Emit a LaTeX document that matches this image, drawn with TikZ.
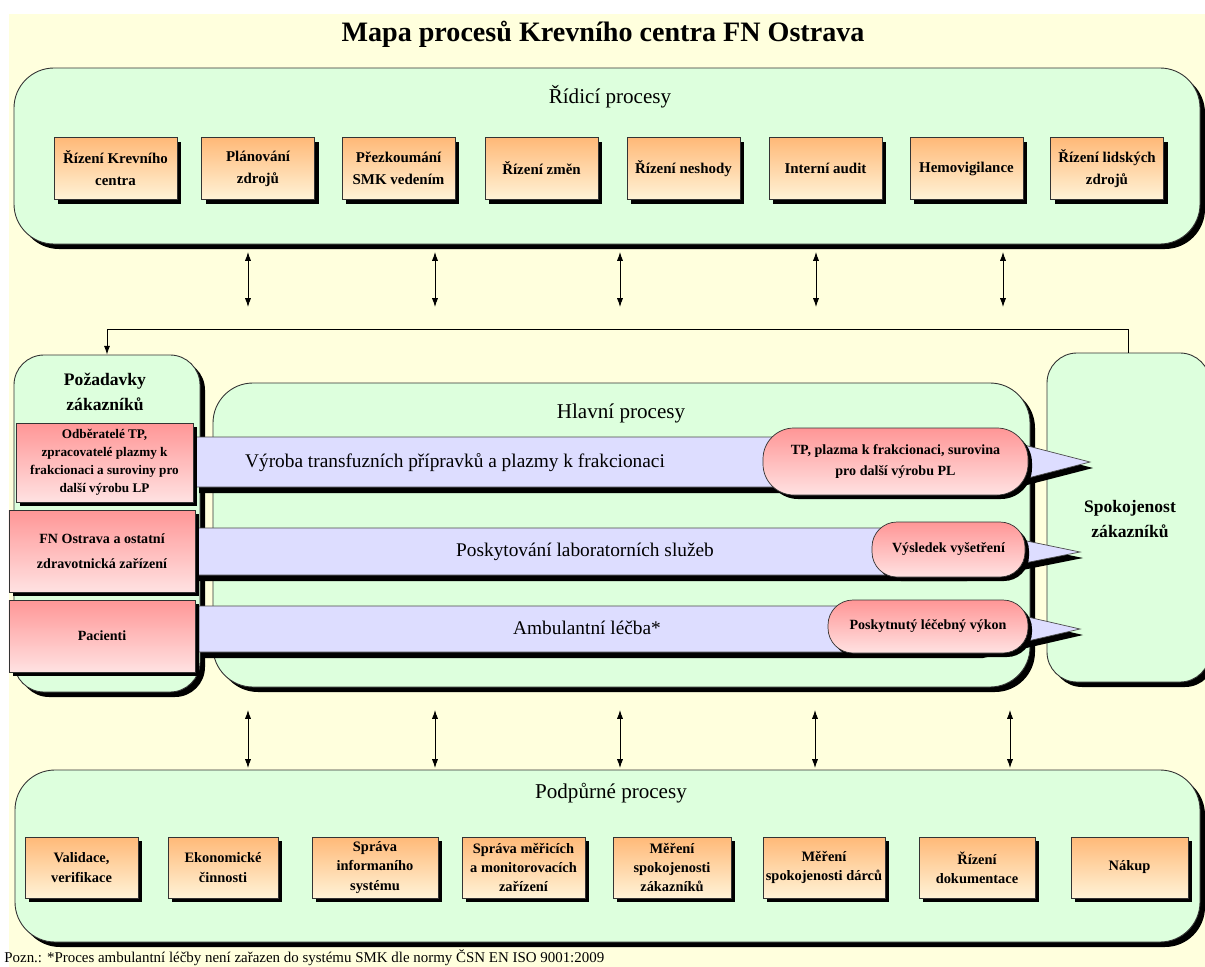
\documentclass[tikz,border=0pt]{standalone}
\usepackage{fontspec}
\setmainfont{Liberation Serif}
\usepackage{tikz}
\usetikzlibrary{positioning, shadows, arrows.meta}

\begin{document}
\begin{tikzpicture}[
  panel/.style={
    draw=black!80,
    fill=panelgreen,
    rounded corners=0.8cm,
    line width=0.5pt,
    drop shadow={shadow xshift=0.1cm, shadow yshift=-0.1cm, fill=black, opacity=1}
  },
  sidepanel/.style={
    panel,
    rounded corners=0.6cm
  },
  procbox/.style={
    draw=black!80,
    top color=boxtop,
    bottom color=boxbot,
    minimum width=2.26cm,
    minimum height=1.24cm,
    font=\bfseries\fontsize{8.5}{12.5}\selectfont,
    align=center,
    inner sep=1pt,
    drop shadow={shadow xshift=0.08cm, shadow yshift=-0.08cm, fill=black, opacity=1}
  },
  suppbox/.style={
    procbox,
    minimum height=1.22cm,
    font=\bfseries\fontsize{8.2}{11}\selectfont
  },
  custbox/.style={
    draw=black!80,
    top color=redtop,
    bottom color=redbot,
    font=\bfseries\fontsize{7.5}{10.2}\selectfont,
    align=center,
    inner sep=1pt,
    drop shadow={shadow xshift=0.08cm, shadow yshift=-0.08cm, fill=black, opacity=1}
  },
  outcome/.style={
    custbox,
    rounded corners=0.5cm,
    font=\bfseries\fontsize{8}{12}\selectfont
  },
  mainbar/.style={
    draw=black!70,
    fill=barblue,
    line width=0.4pt,
    drop shadow={shadow xshift=0.06cm, shadow yshift=-0.12cm, fill=black, opacity=1}
  },
  paneltitle/.style={
    font=\fontsize{12}{14}\selectfont
  },
  bartext/.style={
    font=\fontsize{11}{13}\selectfont
  },
  sidetitle/.style={
    font=\bfseries\fontsize{10}{14}\selectfont,
    align=center
  },
  biarrow/.style={
    {Latex[length=5pt,width=3.5pt]}-{Latex[length=5pt,width=3.5pt]},
    line width=0.5pt
  }
]

\definecolor{bgyellow}{RGB}{255,255,221}
\definecolor{panelgreen}{RGB}{221,255,221}
\definecolor{boxtop}{RGB}{255,185,120}
\definecolor{boxbot}{RGB}{255,243,215}
\definecolor{redtop}{RGB}{255,150,150}
\definecolor{redbot}{RGB}{255,226,226}
\definecolor{barblue}{RGB}{221,221,255}

\useasboundingbox (0,0) rectangle (24.1,-19.34);
\fill[white] (0,0) rectangle (24.1,-19.34);
\fill[bgyellow] (0.18,-0.28) rectangle (24.1,-19.34);

\node[font=\bfseries\fontsize{16}{19}\selectfont] (title) at (12.06,-0.68)
  {Mapa procesů Krevního centra FN Ostrava};

% ridici procesy
\node[panel, minimum width=23.72cm, minimum height=3.52cm] (ctrl) at (12.14,-3.12) {};
\node[paneltitle] (ctrltitle) at (12.2,-1.94) {Řídicí procesy};

\node[procbox, minimum width=2.46cm] (c1) at (2.31,-3.37) {Řízení Krevního\\centra};
\node[procbox] (c2) at (5.16,-3.37) {Plánování\\zdrojů};
\node[procbox] (c3) at (7.97,-3.37) {Přezkoumání\\SMK vedením};
\node[procbox] (c4) at (10.83,-3.37) {Řízení změn};
\node[procbox] (c5) at (13.67,-3.37) {Řízení neshody};
\node[procbox] (c6) at (16.51,-3.37) {Interní audit};
\node[procbox] (c7) at (19.33,-3.37) {Hemovigilance};
\node[procbox] (c8) at (22.14,-3.37) {Řízení lidských\\zdrojů};

\coordinate (ua1) at (4.96,-5.04);  \coordinate (ub1) at (4.96,-6.14);
\coordinate (ua2) at (8.70,-5.04);  \coordinate (ub2) at (8.70,-6.14);
\coordinate (ua3) at (12.40,-5.04); \coordinate (ub3) at (12.40,-6.14);
\coordinate (ua4) at (16.32,-5.04); \coordinate (ub4) at (16.32,-6.14);
\coordinate (ua5) at (20.06,-5.04); \coordinate (ub5) at (20.06,-6.14);
\draw[biarrow] (ua1) -- (ub1);
\draw[biarrow] (ua2) -- (ub2);
\draw[biarrow] (ua3) -- (ub3);
\draw[biarrow] (ua4) -- (ub4);
\draw[biarrow] (ua5) -- (ub5);

% pozadavky, hlavni procesy, spokojenost
\node[sidepanel, minimum width=3.72cm, minimum height=6.74cm] (req) at (2.14,-10.47) {};
\node[sidetitle] (reqtitle) at (2.10,-7.84) {Požadavky\\zákazníků};

\node[panel, minimum width=16.34cm, minimum height=6.08cm] (main) at (12.43,-10.70) {};
\node[paneltitle] (maintitle) at (12.42,-8.26) {Hlavní procesy};

\node[sidepanel, minimum width=3.26cm, minimum height=6.58cm] (sat) at (22.57,-10.35) {};
\node[sidetitle] (sattitle) at (22.60,-10.38) {Spokojenost\\zákazníků};

\draw[-{Latex[length=5pt,width=3.5pt]}, line width=0.5pt]
  (sat.north) -- ++(0,0.46) -| (req.north);

\path[mainbar] (3.92,-8.74) -- (19.86,-8.74) -- (21.80,-9.24)
  -- (19.86,-9.74) -- (3.92,-9.74) -- cycle;
\path[mainbar] (3.84,-10.56) -- (19.28,-10.56) -- (21.60,-11.04)
  -- (19.28,-11.50) -- (3.84,-11.50) -- cycle;
\path[mainbar] (3.98,-12.12) -- (19.60,-12.12) -- (21.60,-12.58)
  -- (19.60,-13.04) -- (3.98,-13.04) -- cycle;

\node[bartext] (bar1) at (9.10,-9.26) {Výroba transfuzních přípravků a plazmy k frakcionaci};
\node[bartext] (bar2) at (11.70,-11.04) {Poskytování laboratorních služeb};
\node[bartext] (bar3) at (11.74,-12.56) {Ambulantní léčba*};

\node[outcome, minimum width=5.30cm, minimum height=1.34cm, rounded corners=0.62cm] (out1) at (17.91,-9.23)
  {TP, plazma k frakcionaci, surovina\\pro další výrobu PL};
\node[outcome, minimum width=3.06cm, minimum height=1.10cm] (out2) at (18.97,-10.99)
  {Výsledek vyšetření};
\node[outcome, minimum width=4.00cm, minimum height=1.06cm] (out3) at (18.56,-12.53)
  {Poskytnutý léčebný výkon};

\node[custbox, minimum width=3.54cm, minimum height=1.58cm] (cust1) at (2.09,-9.25)
  {Odběratelé TP,\\zpracovatelé plazmy k\\frakcionaci a suroviny pro\\další výrobu LP};
\node[custbox, minimum width=3.72cm, minimum height=1.64cm,
  font=\bfseries\fontsize{8}{14}\selectfont] (cust2) at (2.04,-11.02)
  {FN Ostrava a ostatní\\zdravotnická zařízení};
\node[custbox, minimum width=3.72cm, minimum height=1.44cm,
  font=\bfseries\fontsize{8}{12}\selectfont] (cust3) at (2.04,-12.72)
  {Pacienti};

\coordinate (la1) at (4.96,-14.20);  \coordinate (lb1) at (4.96,-15.36);
\coordinate (la2) at (8.70,-14.20);  \coordinate (lb2) at (8.70,-15.36);
\coordinate (la3) at (12.40,-14.20); \coordinate (lb3) at (12.40,-15.36);
\coordinate (la4) at (16.30,-14.20); \coordinate (lb4) at (16.30,-15.36);
\coordinate (la5) at (20.20,-14.20); \coordinate (lb5) at (20.20,-15.36);

% podpurne procesy
\node[panel, minimum width=23.70cm, minimum height=3.44cm] (supp) at (12.15,-17.12) {};
\node[paneltitle] (supptitle) at (12.22,-15.86) {Podpůrné procesy};

\draw[biarrow] (la1) -- (lb1);
\draw[biarrow] (la2) -- (lb2);
\draw[biarrow] (la3) -- (lb3);
\draw[biarrow] (la4) -- (lb4);
\draw[biarrow] (la5) -- (lb5);

\node[suppbox, minimum width=2.26cm] (s1) at (1.63,-17.35) {Validace,\\verifikace};
\node[suppbox, minimum width=2.20cm] (s2) at (4.46,-17.35) {Ekonomické\\činnosti};
\node[suppbox, minimum width=2.52cm] (s3) at (7.50,-17.35) {Správa\\informaního\\systému};
\node[suppbox, minimum width=2.46cm] (s4) at (10.47,-17.35) {Správa měřicích\\a monitorovacích\\zařízení};
\node[suppbox, minimum width=2.36cm] (s5) at (13.44,-17.35) {Měření\\spokojenosti\\zákazníků};
\node[suppbox, minimum width=2.44cm] (s6) at (16.48,-17.35) {Měření\\spokojenosti dárců};
\node[suppbox, minimum width=2.32cm] (s7) at (19.54,-17.35) {Řízení\\dokumentace};
\node[suppbox, minimum width=2.34cm] (s8) at (22.59,-17.35) {Nákup};

\node[anchor=base west, font=\fontsize{8.5}{10}\selectfont, inner sep=0pt] (note) at (0.08,-19.24)
  {Pozn.: *Proces ambulantní léčby není zařazen do systému SMK dle normy ČSN EN ISO 9001:2009};

\end{tikzpicture}
\end{document}
